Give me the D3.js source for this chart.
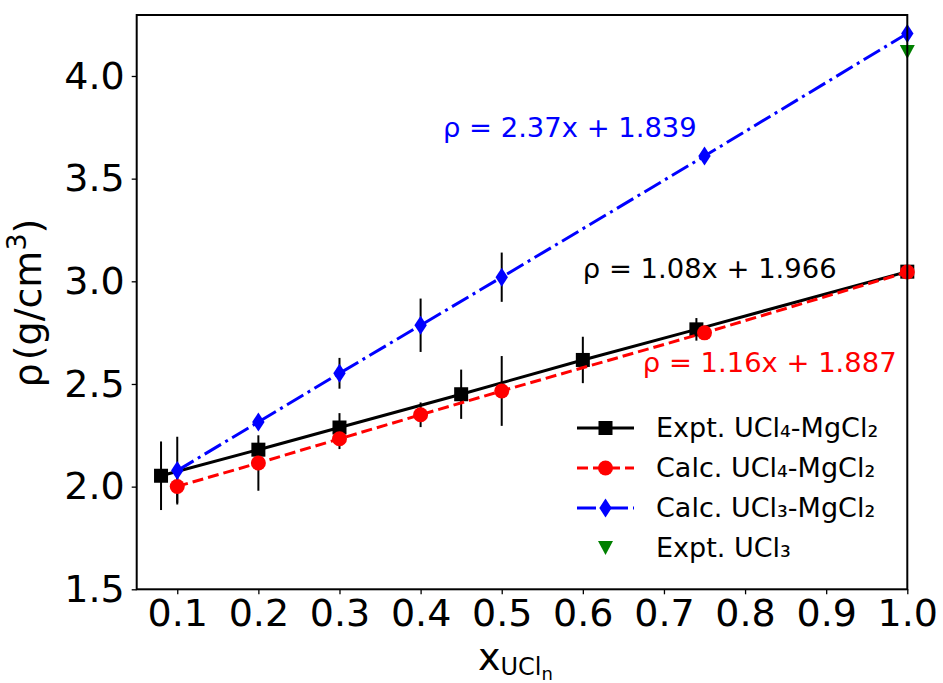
<!DOCTYPE html>
<meta charset="utf-8">
<style>
body { margin: 0; background: #fff; }
svg text { font-family: "DejaVu Sans", sans-serif; }
</style>
<svg width="943" height="683"></svg>
<script src="https://cdn.jsdelivr.net/npm/d3@7/dist/d3.min.js"></script>
<script>
"use strict";

// data
var exptU4X = [0.08, 0.2, 0.3, 0.45, 0.6, 0.74, 1.0];
var exptU4Y = [2.053, 2.18, 2.288, 2.45, 2.617, 2.766, 3.047];
var exptU4Err = [0.167, 0, 0.07, 0.12, 0.113, 0.055, 0];

var calcU4X = [0.1, 0.2, 0.3, 0.4, 0.5, 0.75, 1.0];
var calcU4Y = [2.001, 2.115, 2.233, 2.35, 2.466, 2.749, 3.045];
var calcU4Err = [0.08, 0.135, 0.05, 0.06, 0.17, 0, 0];

var calcU3X = [0.1, 0.2, 0.3, 0.4, 0.5, 0.75, 1.0];
var calcU3Y = [2.078, 2.315, 2.552, 2.786, 3.02, 3.61, 4.207];
var calcU3Err = [0.165, 0.03, 0.075, 0.13, 0.12, 0, 0];

var exptU3X = [1.0];
var exptU3Y = [4.117];

var xTicks = [0.1, 0.2, 0.3, 0.4, 0.5, 0.6, 0.7, 0.8, 0.9, 1.0];
var yTicks = [1.5, 2.0, 2.5, 3.0, 3.5, 4.0];

var fits = [
  {text: "ρ = 2.37x + 1.839", x: 0.4276, y: 3.703, color: "blue"},
  {text: "ρ = 1.08x + 1.966", x: 0.600, y: 3.016, color: "black"},
  {text: "ρ = 1.16x + 1.887", x: 0.674, y: 2.558, color: "red"}
];

var legendLabels = ["Expt. UCl₄-MgCl₂", "Calc. UCl₄-MgCl₂", "Calc. UCl₃-MgCl₂", "Expt. UCl₃"];

var svg = d3.select("svg");
var pLeft = 136.7, pRight = 907.3, pTop = 15, pBottom = 589.3;

var x = d3.scaleLinear().domain([0.05, 1.0]).range([pLeft, pRight]);
var y = d3.scaleLinear().domain([1.5, 4.297]).range([pBottom, pTop]);

function zip(xs, ys, es) {
  return xs.map(function(v, i) { return {x: v, y: ys[i], e: es ? es[i] : 0}; });
}

var series = [
  {pts: zip(exptU4X, exptU4Y, exptU4Err), color: "black", dash: null, marker: "square"},
  {pts: zip(calcU4X, calcU4Y, calcU4Err), color: "red", dash: "11,5", marker: "circle"},
  {pts: zip(calcU3X, calcU3Y, calcU3Err), color: "blue", dash: "19,5,3,5", marker: "diamond"},
  {pts: zip(exptU3X, exptU3Y, null), color: "green", dash: null, marker: "tri", noLine: true}
];

// axes
var xAxis = svg.append("g")
  .attr("transform", "translate(0," + pBottom + ")")
  .call(d3.axisBottom(x).tickValues(xTicks).tickFormat(d3.format(".1f")).tickSize(5).tickPadding(5));
var yAxis = svg.append("g")
  .attr("transform", "translate(" + pLeft + ",0)")
  .call(d3.axisLeft(y).tickValues(yTicks).tickFormat(d3.format(".1f")).tickSize(5).tickPadding(7));
[xAxis, yAxis].forEach(function(a) {
  a.select(".domain").remove();
  a.selectAll("line").attr("stroke", "black").attr("stroke-width", 1.3);
  a.selectAll("text").attr("font-family", "DejaVu Sans").attr("font-size", 38).attr("fill", "black");
});

// error bars
series.forEach(function(s) {
  svg.append("g").selectAll("line")
    .data(s.pts.filter(function(d) { return d.e > 0; }))
    .enter().append("line")
      .attr("x1", function(d) { return x(d.x); })
      .attr("x2", function(d) { return x(d.x); })
      .attr("y1", function(d) { return y(d.y - d.e); })
      .attr("y2", function(d) { return y(d.y + d.e); })
      .attr("stroke", "black")
      .attr("stroke-width", 2);
});

var line = d3.line().x(function(d) { return x(d.x); }).y(function(d) { return y(d.y); });

function drawMarker(g, kind, color) {
  if (kind == "square") g.append("rect").attr("x", -7).attr("y", -7).attr("width", 14).attr("height", 14).attr("fill", color);
  if (kind == "circle") g.append("circle").attr("r", 7.5).attr("fill", color);
  if (kind == "diamond") g.append("path").attr("d", "M0,-9.5L6.2,0L0,9.5L-6.2,0Z").attr("fill", color);
  if (kind == "tri") g.append("path").attr("d", "M-7.5,-7L7.5,-7L0,7Z").attr("fill", color);
}

series.forEach(function(s) {
  if (!s.noLine) {
    svg.append("path")
      .datum(s.pts)
      .attr("d", line)
      .attr("fill", "none")
      .attr("stroke", s.color)
      .attr("stroke-width", 3)
      .attr("stroke-dasharray", s.dash);
  }
  svg.append("g").selectAll("g")
    .data(s.pts)
    .enter().append("g")
      .attr("transform", function(d) { return "translate(" + x(d.x) + "," + y(d.y) + ")"; })
      .each(function() { drawMarker(d3.select(this), s.marker, s.color); });
});

// frame
svg.append("rect")
  .attr("x", pLeft).attr("y", pTop)
  .attr("width", pRight - pLeft).attr("height", pBottom - pTop)
  .attr("fill", "none").attr("stroke", "black").attr("stroke-width", 2);

// fit equations
svg.append("g").selectAll("text")
  .data(fits)
  .enter().append("text")
    .attr("x", function(d) { return x(d.x); })
    .attr("y", function(d) { return y(d.y); })
    .attr("font-size", 27.4)
    .attr("fill", function(d) { return d.color; })
    .text(function(d) { return d.text; });

// legend
var legend = svg.append("g").attr("transform", "translate(577,428)");
series.forEach(function(s, i) {
  var row = legend.append("g").attr("transform", "translate(0," + (i * 40) + ")");
  if (!s.noLine) {
    row.append("line")
      .attr("x1", 0).attr("x2", 57).attr("y1", 0).attr("y2", 0)
      .attr("stroke", s.color).attr("stroke-width", 3)
      .attr("stroke-dasharray", s.dash);
  }
  drawMarker(row.append("g").attr("transform", "translate(28.5,0)"), s.marker, s.color);
  row.append("text")
    .attr("x", 79).attr("y", 9)
    .attr("font-size", 27)
    .text(legendLabels[i]);
});

// axis labels
var xl = svg.append("text")
  .attr("x", 478).attr("y", 670)
  .attr("font-size", 38);
xl.append("tspan").text("x");
xl.append("tspan").attr("font-size", 24).attr("dy", 5).text("UCl");
xl.append("tspan").attr("font-size", 18).attr("dy", 5).text("n");

var yl = svg.append("text")
  .attr("transform", "translate(41,303) rotate(-90)")
  .attr("text-anchor", "middle")
  .attr("font-size", 38);
yl.append("tspan").text("ρ");
yl.append("tspan").attr("dx", 3).text("(g/cm");
yl.append("tspan").attr("font-size", 27).attr("dy", -15).text("3");
yl.append("tspan").attr("dy", 15).text(")");
</script>
